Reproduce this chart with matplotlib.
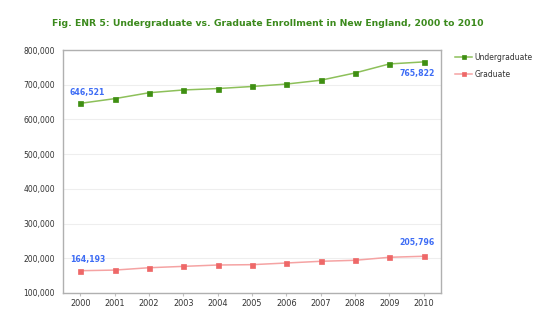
import matplotlib
matplotlib.use('Agg')
import matplotlib.pyplot as plt
from matplotlib.ticker import FuncFormatter

years = ['2000', '2001', '2002', '2003', '2004', '2005', '2006', '2007', '2008', '2009', '2010']
undergraduate = [646521, 660000, 677000, 685000, 689000, 695000, 702000, 713000, 734000, 760000, 765822]
graduate = [164193, 166000, 172800, 176700, 180600, 181600, 186400, 191300, 194200, 202900, 205796]

fig = plt.figure(figsize=(5.48, 3.25), dpi=100)
ax = fig.add_axes([0.1155, 0.0985, 0.689, 0.7475])

x = range(len(years))
ax.plot(x, undergraduate, color='#8dc05a', lw=1.1, marker='s', ms=3.6, mew=0.5,
        mfc='#3f8f12', mec='#3f8f12', label='Undergraduate', zorder=3)
ax.plot(x, graduate, color='#f5a3a3', lw=1.1, marker='s', ms=3.6, mew=0.5,
        mfc='#ee6868', mec='#ee6868', label='Graduate', zorder=3)

# value labels at the ends
blue = '#3d6cf5'
lab = dict(textcoords='offset points', ha='center', color=blue, fontsize=5.6, fontweight='bold')
ax.annotate('646,521', (0, undergraduate[0]), xytext=(5, 4.5), va='bottom', **lab)
ax.annotate('765,822', (10, undergraduate[-1]), xytext=(-5, -5), va='top', **lab)
ax.annotate('164,193', (0, graduate[0]), xytext=(5, 4.5), va='bottom', **lab)
ax.annotate('205,796', (10, graduate[-1]), xytext=(-5, 6.5), va='bottom', **lab)

ax.set_xlim(-0.5, 10.5)
ax.set_ylim(100000, 800000)
ax.set_yticks(range(100000, 800001, 100000))
ax.yaxis.set_major_formatter(FuncFormatter(lambda v, p: f'{int(v):,}'))
ax.set_xticks(list(x))
ax.set_xticklabels(years)
ax.tick_params(axis='y', labelsize=5.5, colors='#333333', length=0, pad=6)
ax.tick_params(axis='x', labelsize=5.9, labelcolor='#333333', color='#c0c0c0',
               length=2, width=0.8, pad=2.5)
ax.grid(axis='y', color='#eeeeee', lw=0.8)
ax.set_axisbelow(True)
for s in ax.spines.values():
    s.set_color('#b0b0b0')
    s.set_linewidth(1.0)

fig.text(0.489, 0.927, 'Fig. ENR 5: Undergraduate vs. Graduate Enrollment in New England, 2000 to 2010',
         ha='center', va='center', color='#3b8a1c', fontsize=6.7, fontweight='bold')

ax.legend(loc='upper left', bbox_to_anchor=(1.03, 1.0), frameon=False, fontsize=5.5,
          handlelength=2.2, labelspacing=1.0, borderaxespad=0, handletextpad=0.3,
          labelcolor='#333333', markerscale=0.8)

plt.savefig('out.png')
plt.close()
